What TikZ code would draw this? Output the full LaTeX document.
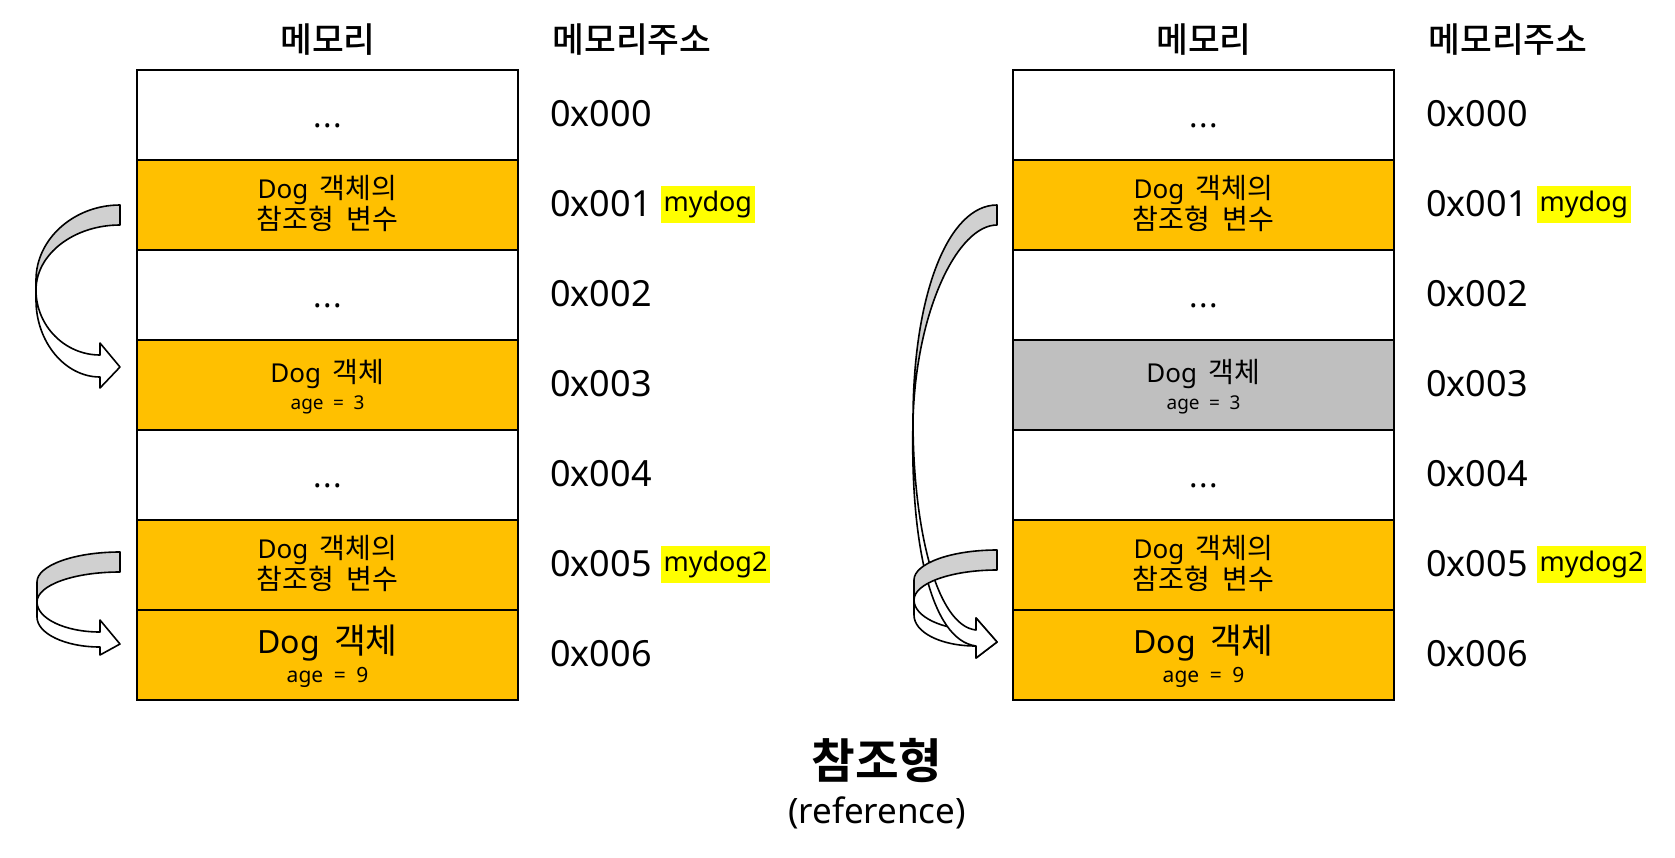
\documentclass[tikz,border=0pt]{standalone}
\usepackage{fontspec}
\setmainfont{Noto Sans}
\newfontfamily\krfont[Scale=1.08, BoldFont={Noto Sans CJK KR Bold}]{Noto Sans CJK KR}
\newfontfamily\krmed[Scale=1.08]{Noto Sans CJK KR Medium}
\newcommand\kr[1]{{\krfont #1}}
\usetikzlibrary{calc}
\definecolor{cellorange}{HTML}{FFC000}
\definecolor{cellgray}{HTML}{BFBFBF}
\definecolor{arrowgray}{HTML}{D0D0D0}
\definecolor{hl}{HTML}{FFFF00}
\newcommand\fs[1]{\fontsize{#1}{1.2\dimexpr#1pt\relax}\selectfont}
\newcommand\wsp{\hspace{0.45em}}
\newcommand\dotsx{{\fs{32}.\hspace{1.5pt}.\hspace{1.5pt}.}}
\begin{document}
\begin{tikzpicture}[x=1pt,y=-1pt,
  cell/.style={draw=black, line width=2pt, minimum width=381pt, minimum height=90pt, inner sep=0pt, outer sep=0pt},
  wcell/.style={cell, fill=white},
  ocell/.style={cell, fill=cellorange},
  gcell/.style={cell, fill=cellgray},
  txt/.style={inner sep=0pt, font=\fs{26}, anchor=base},
  smalltxt/.style={inner sep=0pt, font=\fs{19}, anchor=base},
  bigtxt/.style={inner sep=0pt, font=\fs{32}, anchor=base},
  midtxt/.style={inner sep=0pt, font=\fs{21}, anchor=base},
  addr/.style={inner sep=0pt, font=\fs{36}, anchor=west},
  hdr/.style={inner sep=0pt, font=\fs{32}\krmed},
  hlbox/.style={fill=hl, inner xsep=2.5pt, inner ysep=0pt, minimum height=37pt, font=\fs{27}, anchor=west},
  arrg/.style={draw=black, line width=1.6pt, fill=arrowgray, line join=round},
  arrw/.style={draw=black, line width=1.6pt, fill=white, line join=round}
]
\useasboundingbox (0,0) rectangle (1675,857);

% ---------- headers ----------
\node[hdr] (LH1) at (328,39.5) {메모리};
\node[hdr] (LH2) at (632,39.5) {메모리주소};
\node[hdr] (RH1) at (1204,39.5) {메모리};
\node[hdr] (RH2) at (1508,39.5) {메모리주소};

% ---------- left table ----------
\node[wcell] (L0) at (327.5,114.5) {};
\node[ocell] (L1) at (327.5,204.5) {};
\node[wcell] (L2) at (327.5,294.5) {};
\node[ocell] (L3) at (327.5,384.5) {};
\node[wcell] (L4) at (327.5,474.5) {};
\node[ocell] (L5) at (327.5,564.5) {};
\node[ocell] (L6) at (327.5,654.5) {};

% ---------- right table ----------
\node[wcell] (R0) at (1203.5,114.5) {};
\node[ocell] (R1) at (1203.5,204.5) {};
\node[wcell] (R2) at (1203.5,294.5) {};
\node[gcell] (R3) at (1203.5,384.5) {};
\node[wcell] (R4) at (1203.5,474.5) {};
\node[ocell] (R5) at (1203.5,564.5) {};
\node[ocell] (R6) at (1203.5,654.5) {};

% ---------- cell texts ----------
\foreach \t in {L,R}{
  \node[txt] (\t0d) at ($(\t0.center)+(0,13)$) {\dotsx};
  \node[txt] (\t2d) at ($(\t2.center)+(0,13)$) {\dotsx};
  \node[txt] (\t4d) at ($(\t4.center)+(0,13)$) {\dotsx};
  \node[txt] (\t1a) at ($(\t1.center)+(0,-6.5)$) {Dog\wsp\kr{객체의}};
  \node[txt] (\t1b) at ($(\t1.center)+(0,25)$) {\kr{참조형\wsp 변수}};
  \node[txt] (\t3a) at ($(\t3.center)+(0,-2)$) {Dog\wsp\kr{객체}};
  \node[smalltxt] (\t3b) at ($(\t3.center)+(0,24.5)$) {age\enspace=\enspace3};
  \node[txt] (\t5a) at ($(\t5.center)+(0,-6.5)$) {Dog\wsp\kr{객체의}};
  \node[txt] (\t5b) at ($(\t5.center)+(0,25)$) {\kr{참조형\wsp 변수}};
  \node[bigtxt] (\t6a) at ($(\t6.center)+(0,-1.5)$) {Dog\wsp\kr{객체}};
  \node[midtxt] (\t6b) at ($(\t6.center)+(0,28)$) {age\enspace=\enspace9};
  % addresses
  \node[addr] (\t A0) at ($(\t0.center)+(222.5,-1)$) {0x000};
  \node[addr] (\t A1) at ($(\t1.center)+(222.5,-1)$) {0x001};
  \node[addr] (\t A2) at ($(\t2.center)+(222.5,-1)$) {0x002};
  \node[addr] (\t A3) at ($(\t3.center)+(222.5,-1)$) {0x003};
  \node[addr] (\t A4) at ($(\t4.center)+(222.5,-1)$) {0x004};
  \node[addr] (\t A5) at ($(\t5.center)+(222.5,-1)$) {0x005};
  \node[addr] (\t A6) at ($(\t6.center)+(222.5,-1)$) {0x006};
  \node[hlbox] (\t M1) at ($(\t A1.east)+(9,1)$) {mydog};
  \node[hlbox] (\t M5) at ($(\t A5.east)+(9,1)$) {mydog2};
}

% ---------- left curved block arrows ----------
% 0x001 -> 0x003
\path[arrw] (36,290) .. controls (36,326) and (65,355) .. (100,355) -- (100,343) -- (120,367)
  -- (100,388) -- (100,377) .. controls (65,377) and (36,342) .. (36,300) -- cycle;
\path[arrg] (120,205) .. controls (74,205) and (36,239) .. (36,280) -- (36,290)
  .. controls (36,254) and (74,225) .. (120,225) -- cycle;
% 0x005 -> 0x006
\path[arrw] (37,602) .. controls (37,618.5) and (65,632) .. (100,632) -- (100,620) -- (120,644)
  -- (100,655) -- (100,647) .. controls (65,647) and (37,633.5) .. (37,617) -- cycle;
\path[arrg] (120,552) .. controls (74,552) and (37,565.5) .. (37,582) -- (37,602)
  .. controls (37,585) and (74,572) .. (120,572) -- cycle;

% ---------- right curved block arrows ----------
% small arrow white part (0x005 -> 0x006)
\path[arrw] (914,600) .. controls (914,616.5) and (942,630) .. (976,630) -- (976,618) -- (997,642)
  -- (976,658) -- (976,646) .. controls (940,646) and (914,632) .. (914,615) -- cycle;
% long arrow (0x001 -> 0x006)
\path[arrw] (913,420) .. controls (913,530) and (937,626) .. (976,630) -- (976,618) -- (997,642)
  -- (976,658) -- (976,646) .. controls (930,640) and (910,540) .. (913,420) -- cycle;
\path[arrg] (997,205) .. controls (948,205) and (913,295) .. (913,420)
  .. controls (916,310) and (958,225) .. (997,225) -- cycle;
% small arrow gray part
\path[arrg] (997,550) .. controls (951,550) and (914,563.5) .. (914,580) -- (914,600)
  .. controls (914,583) and (952,570) .. (997,570) -- cycle;

% ---------- title ----------
\node[inner sep=0pt, font=\fs{44}] (T1) at (877,761) {\kr{\bfseries 참조형}};
\node[inner sep=0pt, font=\fs{35}] (T2) at (877,813) {(reference)};
\end{tikzpicture}
\end{document}
